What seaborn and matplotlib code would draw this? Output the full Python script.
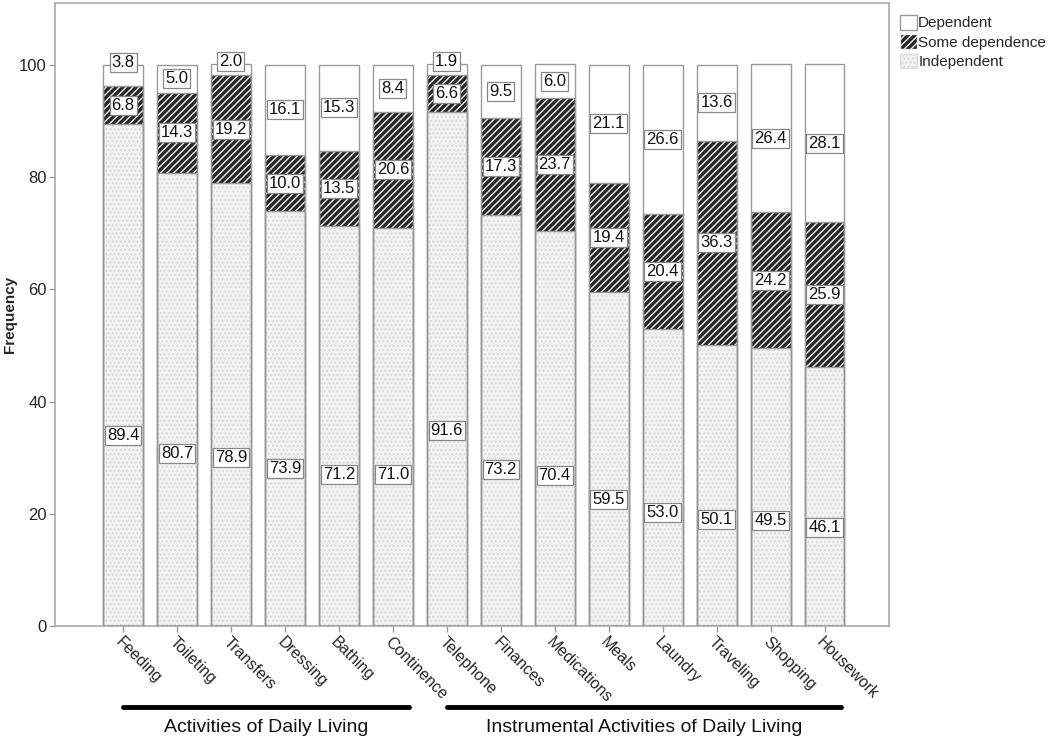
import numpy as np
import pandas as pd
import matplotlib
matplotlib.use('Agg')
import matplotlib.pyplot as plt
from matplotlib.patches import Rectangle, Patch
import seaborn as sns

# --- data (percent) ---
activities = ['Feeding', 'Toileting', 'Transfers', 'Dressing', 'Bathing', 'Continence',
              'Telephone', 'Finances', 'Medications', 'Meals', 'Laundry', 'Traveling',
              'Shopping', 'Housework']
independent = [89.4, 80.7, 78.9, 73.9, 71.2, 71.0, 91.6, 73.2, 70.4, 59.5, 53.0, 50.1, 49.5, 46.1]
some_dependence = [6.8, 14.3, 19.2, 10.0, 13.5, 20.6, 6.6, 17.3, 23.7, 19.4, 20.4, 36.3, 24.2, 25.9]
dependent = [3.8, 5.0, 2.0, 16.1, 15.3, 8.4, 1.9, 9.5, 6.0, 21.1, 26.6, 13.6, 26.4, 28.1]
groups = ['Activities of Daily Living', 'Instrumental Activities of Daily Living']
group_sizes = [6, 8]

sns.set_theme(style='white')
plt.rcParams['font.family'] = ['Liberation Sans', 'DejaVu Sans']
plt.rcParams['hatch.linewidth'] = 1.0

df = pd.DataFrame({'activity': activities, 'ind': independent,
                   'some': some_dependence, 'dep': dependent})
df['top2'] = df['ind'] + df['some']
df['top3'] = df['top2'] + df['dep']

fig = plt.figure(figsize=(10.5, 7.45), dpi=100)
ax = fig.add_axes([0.0524, 0.1597, 0.794, 0.8363])

outline = '#9a9a9a'
bar_w = 0.74
dark_hatch = '/////'
# stacked by overlaying cumulative totals, tallest first
layers = [('top3', 'white', None, 'white'),
          ('top2', '#262626', dark_hatch, '#eeeeee'),
          ('ind', '#f2f2f2', '....', '#dcdcdc')]
for col, fc, hatch, hc in layers:
    sns.barplot(data=df, x='activity', y=col, color=fc, saturation=1, width=bar_w,
                hatch=hatch, edgecolor=hc, linewidth=0, errorbar=None, ax=ax)

for p in list(ax.patches):
    ax.add_patch(Rectangle(p.get_xy(), p.get_width(), p.get_height(), fill=False,
                           edgecolor=outline, lw=1.0, zorder=3))

# value labels
box = dict(boxstyle='square,pad=0.12', fc='white', ec='#888888', lw=0.9)
for i, row in df.iterrows():
    segs = [(0, row['ind'], 0.38), (row['ind'], row['some'], 0.5), (row['top2'], row['dep'], 0.5)]
    for bottom, h, frac in segs:
        y = bottom + h * frac
        if h < 4:
            y = bottom + h + 0.4
        ax.text(i, y, f'{h:.1f}', ha='center', va='center', fontsize=12,
                color='#111111', bbox=box, zorder=5)

ax.set_xlim(-1.26, 14.19)
ax.set_ylim(0, 111)
ax.set_yticks(np.arange(0, 101, 20))
ax.set_ylabel('Frequency', fontsize=11, fontweight='bold')
ax.yaxis.set_label_coords(-0.046, 0.5)
ax.set_xlabel('')
ax.tick_params(axis='y', labelsize=12, left=True, length=4, width=1, color=outline, pad=2)
ax.tick_params(axis='x', bottom=True, length=4, width=1, color=outline, pad=2)
plt.setp(ax.get_xticklabels(), rotation=-45, ha='left', rotation_mode='anchor', fontsize=11.5)
for s in ax.spines.values():
    s.set_color('#aaaaaa')
    s.set_linewidth(1.2)

# group brackets under the axis
trans = ax.get_xaxis_transform()
start = 0
for name, n in zip(groups, group_sizes):
    x0, x1 = start, start + n - 1 + 0.3
    ax.plot([x0, x1], [-0.13, -0.13], color='black', lw=3.5, transform=trans, clip_on=False)
    ax.text((x0 + x1) / 2, -0.163, name, ha='center', va='center', fontsize=14,
            transform=trans, color='#111111')
    start += n

handles = [Patch(facecolor='white', edgecolor=outline, label='Dependent'),
           Patch(facecolor='#262626', edgecolor='#eeeeee', hatch=dark_hatch, label='Some dependence'),
           Patch(facecolor='#f2f2f2', edgecolor='#dcdcdc', hatch='....', label='Independent')]
fig.legend(handles=handles, loc='upper left', bbox_to_anchor=(0.857, 0.98), frameon=False,
           fontsize=11, handlelength=1.1, handleheight=1.1, handletextpad=0.1,
           labelspacing=0.25, borderpad=0, borderaxespad=0)

fig.savefig('out.png', dpi=100, facecolor='white')
